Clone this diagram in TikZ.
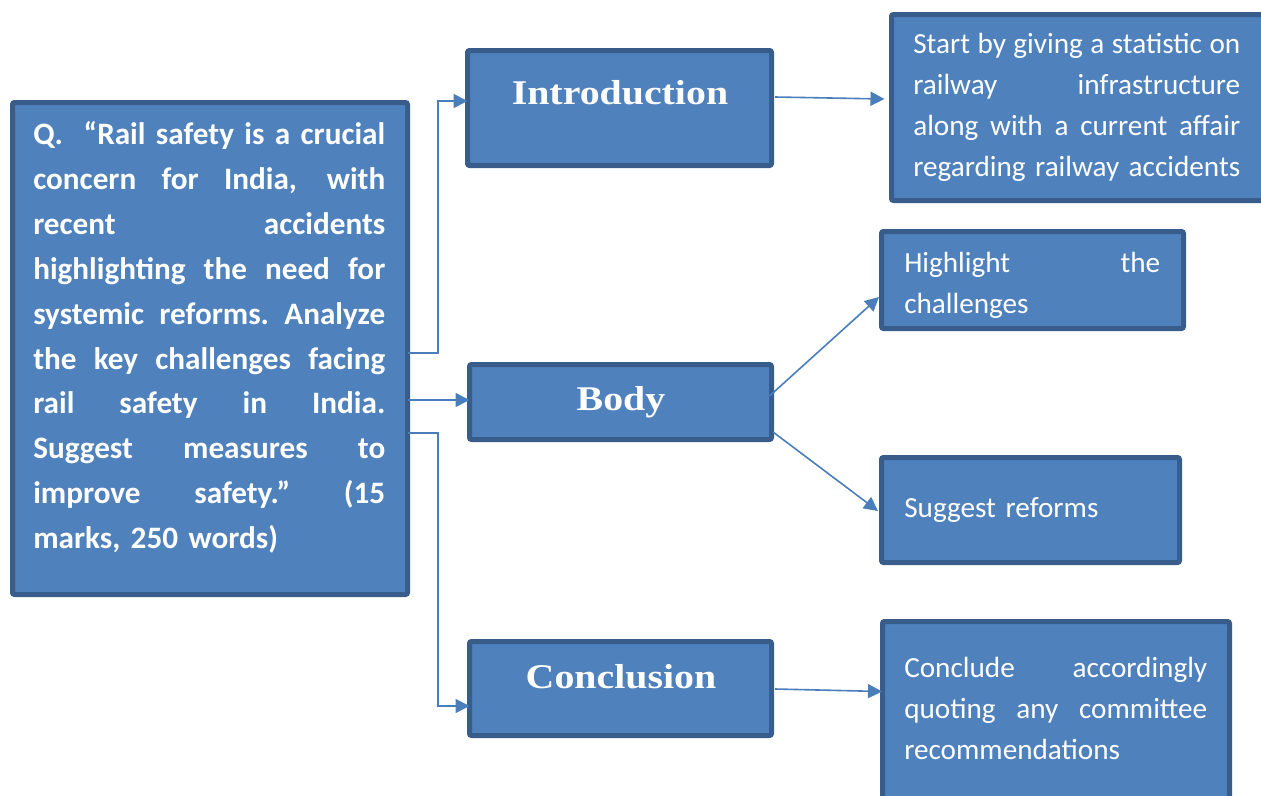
\documentclass[tikz,border=0pt]{standalone}
\usepackage{fontspec}
\setmainfont{Carlito}
\newfontfamily\titlefont[FakeStretch=1.15]{Liberation Serif}
\usetikzlibrary{calc,arrows.meta}

\definecolor{boxfill}{HTML}{4F81BD}
\definecolor{boxedge}{HTML}{385D8A}
\definecolor{linkblue}{HTML}{4A7EBB}

% one justified line of a paragraph, spread over the full width
\newcommand\jline[1]{\makebox[\hsize][s]{\spaceskip=0.23em plus 1fil\relax
  \xspaceskip=\spaceskip #1}\par}

\tikzset{
  box/.style={draw=boxedge, fill=boxfill, line width=3.75pt, rounded corners=1.5pt,
    anchor=north west, inner sep=0pt, outer sep=0pt},
  title/.style={text=white, anchor=base, inner sep=0pt,
    font=\titlefont\bfseries\fontsize{26}{30}\selectfont},
  qtext/.style={text=white, anchor=base west, inner sep=0pt,
    font=\bfseries\fontsize{23.4}{33.75}\selectfont},
  btext/.style={text=white, anchor=base west, inner sep=0pt,
    font=\fontsize{21.9}{30.9}\selectfont},
  conn/.style={draw=linkblue, line width=1.2pt,
    -{Triangle[length=10.5pt,width=10.5pt]}},
}

\begin{document}
\begin{tikzpicture}[x=0.75pt, y=-0.75pt]
\useasboundingbox (0,0) rectangle (1261,796);
\clip (0,0) rectangle (1261,796);

% boxes
\node[box, minimum width=296.25pt, minimum height=369pt]   (q)     at (12.5,102.5) {};
\node[box, minimum width=228pt,    minimum height=86.25pt] (intro) at (467.5,50.5) {};
\node[box, minimum width=226.5pt,  minimum height=56.25pt] (body)  at (469.5,364.5) {};
\node[box, minimum width=226.5pt,  minimum height=70.5pt]  (concl) at (469.5,641.5) {};
\node[box, minimum width=283.5pt,  minimum height=139.5pt] (r1)    at (891.5,14.5) {};
\node[box, minimum width=226.5pt,  minimum height=72.75pt] (r2)    at (881.5,231.5) {};
\node[box, minimum width=223.5pt,  minimum height=78.75pt] (r3)    at (881.5,457.5) {};
\node[box, minimum width=260.25pt, minimum height=138pt]   (r4)    at (882.5,621.5) {};

% question text
\node[qtext, text width=264pt] (qt) at (33,144) {%
\jline{Q.\ \ “Rail safety is a crucial}
\jline{concern for India, with}
\jline{recent accidents}
\jline{highlighting the need for}
\jline{systemic reforms. Analyze}
\jline{the key challenges facing}
\jline{rail safety in India.}
\jline{Suggest measures to}
\jline{improve safety.” (15}
\noindent marks, 250 words)};

% section titles
\node[title] (introt) at (620,104) {Introduction};
\node[title] (bodyt)  at (621,410) {Body};
\node[title] (conclt) at (621,688) {Conclusion};

% notes on the right
\node[btext, text width=245.25pt] (r1t) at (913,53) {%
\jline{Start by giving a statistic on}
\jline{railway infrastructure}
\jline{along with a current affair}
\jline{regarding railway accidents}};
\node[btext, text width=192pt] (r2t) at (904,272) {%
\jline{Highlight the}
\noindent challenges};
\node[btext, text width=223.5pt] (r3t) at (904,517) {Suggest reforms};
\node[btext, text width=227.25pt] (r4t) at (904,677) {%
\jline{Conclude accordingly}
\jline{quoting any committee}
\noindent recommendations};

% connectors from the question
\draw[conn] ($(q.east)+(0,4.5)$) -- ++(30.5,0) |- ($(intro.west)+(0,-7)$);
\draw[conn] ($(q.east)+(0,51.5)$) -- ($(body.west)+(0,-2)$);
\draw[conn] ($(q.east)+(0,84.5)$) -- ++(30.5,0) |- ($(concl.west)+(0,17.5)$);

% connectors to the notes
\draw[conn] ($(intro.east)+(3.5,-11)$) -- ($(r1.west)+(-7,-8.5)$);
\draw[conn] ($(body.east)+(-2,-6)$) -- ($(r2.west)+(-2.5,17)$);
\draw[conn] ($(body.east)+(1.5,30)$) -- ($(r3.west)+(-3.5,1)$);
\draw[conn] ($(concl.east)+(3.5,0.5)$) -- ($(r4.west)+(-0.5,-22)$);
\end{tikzpicture}
\end{document}
